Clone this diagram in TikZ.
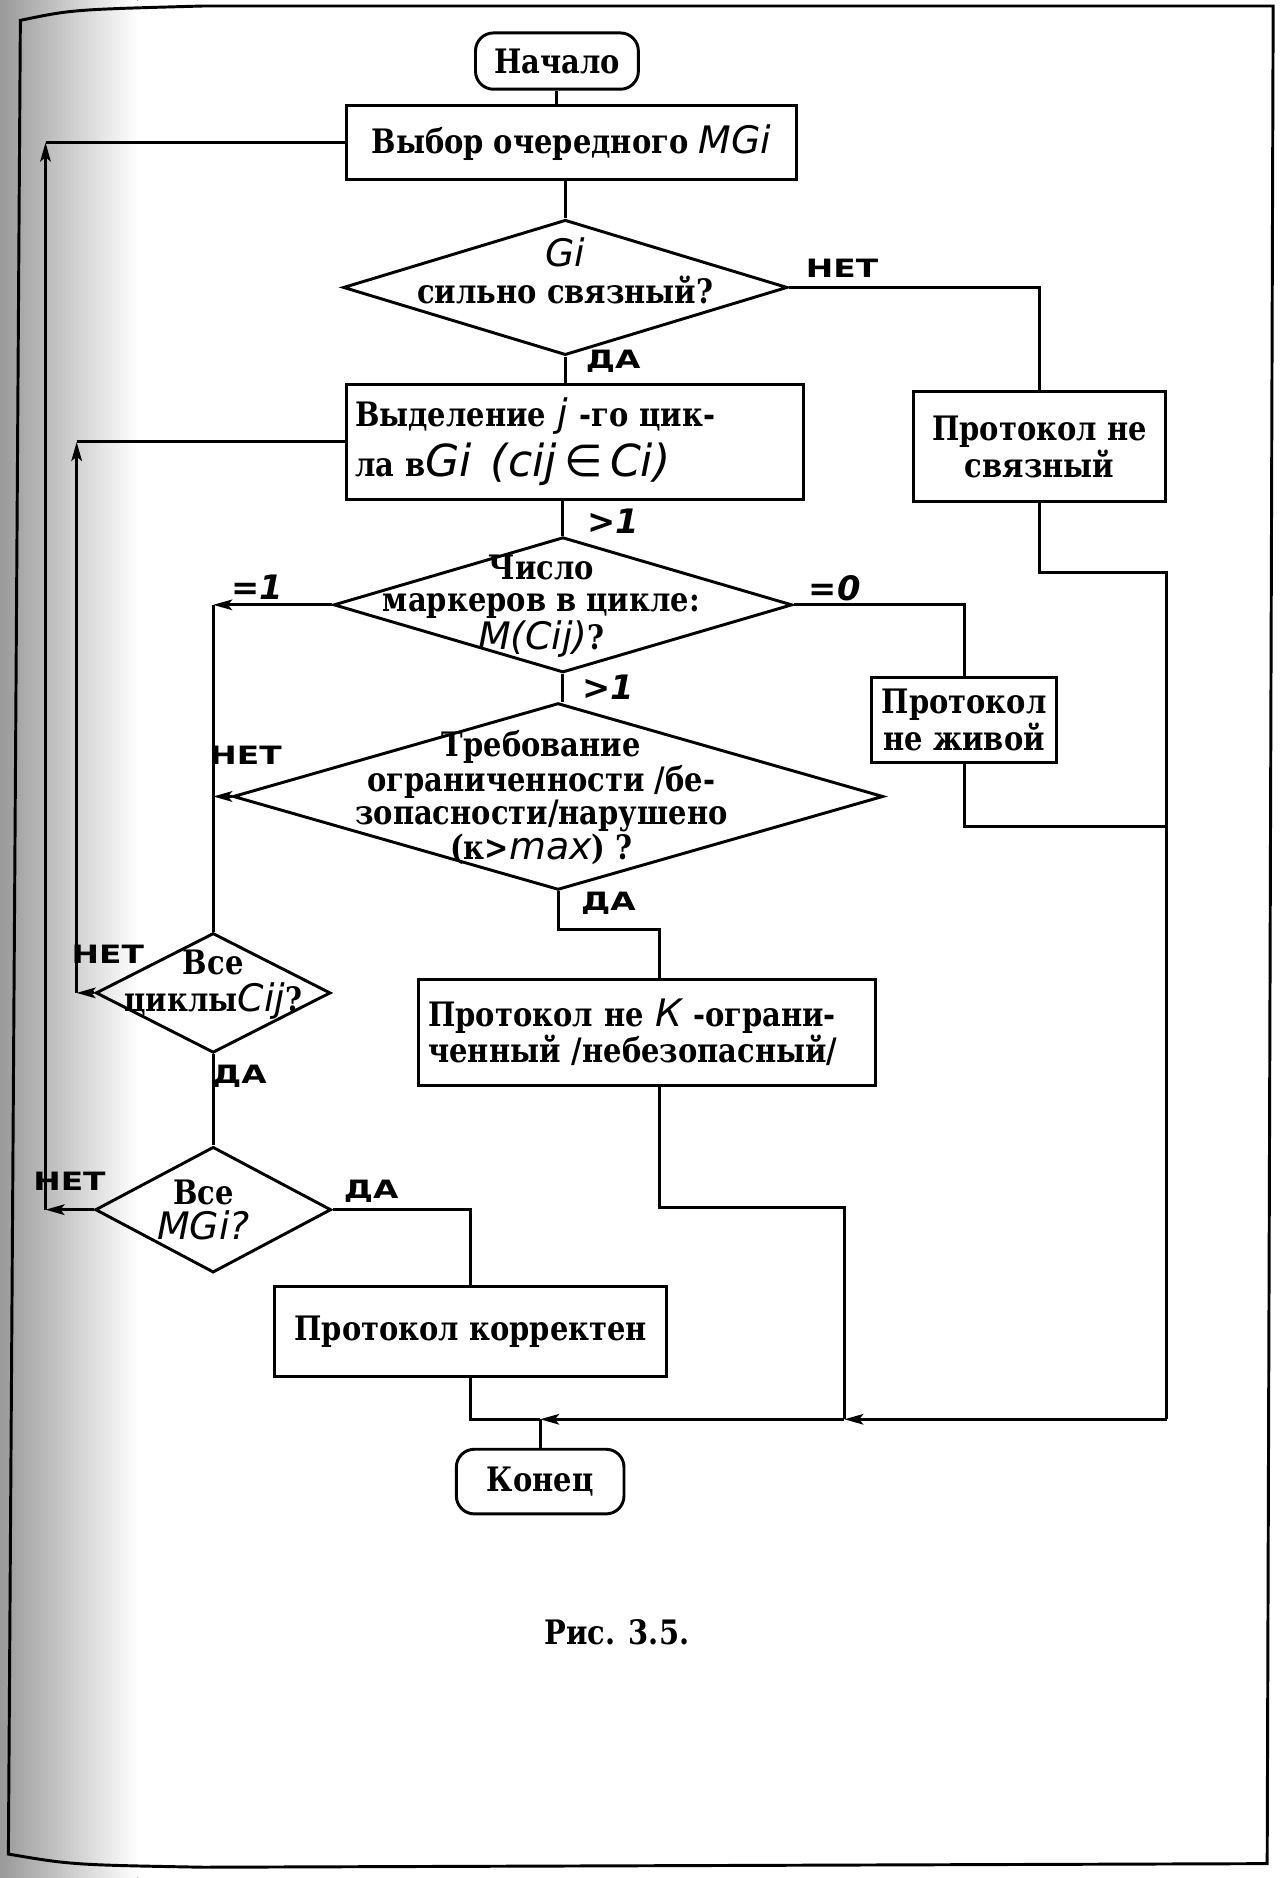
\documentclass[tikz,border=0pt]{standalone}
\usepackage{fontspec}
\setmainfont{DejaVu Serif}[FakeStretch=0.86]
\newfontfamily\handfont{DejaVu Sans}
\newfontfamily\markfont{DejaVu Sans}[FakeStretch=1.3]
\newfontfamily\countfont{DejaVu Sans}
\usetikzlibrary{shapes.geometric,arrows.meta}

\newcommand{\twsize}{\fontsize{16}{15.5}\selectfont}
\newcommand{\hw}[1]{{\handfont\mdseries\itshape\fontsize{18}{15.5}\selectfont #1}}

\tikzset{
  box/.style={draw, rectangle, line width=1.4pt, font=\twsize\bfseries, inner sep=0pt},
  term/.style={box, rounded corners=0.3cm},
  decision/.style={draw, diamond, line width=1.4pt, inner sep=0pt},
  txt/.style={font=\twsize\bfseries, align=center, inner sep=0pt},
  lbl/.style={font=\markfont\bfseries\fontsize{12}{12}\selectfont, inner sep=0pt},
  cnt/.style={font=\countfont\bfseries\itshape\fontsize{16}{16}\selectfont, inner sep=0pt},
  conn/.style={line width=1.4pt},
  arr/.style={conn, -{Stealth[length=9pt,width=5pt,inset=2pt]}}
}

\begin{document}
\begin{tikzpicture}[x=0.02cm,y=-0.02cm]
\useasboundingbox (0,0) rectangle (1070,1568);

% page
\fill[left color=black!40, right color=white] (0,0) rectangle (115,1568);
\draw[line width=1.4pt] (17,17) .. controls (60,8) .. (170,5) -- (1063,5) -- (1058,1556)
  -- (170,1559) .. controls (60,1557) .. (7,1548) -- cycle;

% blocks
\node[term, minimum width=2.72cm, minimum height=0.94cm] (start) at (465,51) {Начало};
\node[box, minimum width=7.52cm, minimum height=1.24cm] (choose) at (477,119) {Выбор очередного \hw{MGi}};

\node[decision, minimum width=7.42cm, minimum height=2.26cm] (strong) at (472,240) {};
\node[txt] (strongt) at (472,226) {\hw{Gi}\\[2pt]сильно связный?};

\node[box, minimum width=7.64cm, minimum height=1.92cm, text width=7.34cm, align=left] (cycle) at (480,369)
  {Выделение \hw{j} -го цик-\\[3pt]ла в\hw{\fontsize{21}{15.5}\selectfont Gi\, (cij\,{\upshape ∈}\,Ci)}};
\node[box, minimum width=4.22cm, minimum height=1.84cm, align=center] (notconn) at (868,373) {Протокол не\\связный};

\node[decision, minimum width=7.66cm, minimum height=2.26cm] (marks) at (470,505) {};
\node[txt] (markst) at (452,506) {Число\\маркеров в цикле:\\\hw{M(Cij)}?};
\node[box, minimum width=3.1cm, minimum height=1.42cm, align=center] (notlive) at (805,601) {Протокол\\не живой};

\node[decision, minimum width=10.86cm, minimum height=3.12cm] (bound) at (466,665) {};
\node[txt] (boundt) at (452,666) {Требование\\ограниченности /бе-\\зопасности/нарушено\\(к>\hw{max}) ?};

\node[box, minimum width=7.64cm, minimum height=1.78cm, text width=7.3cm, align=left] (notbound) at (540,862)
  {Протокол не \hw{К} -ограни-\\ченный /небезопасный/};

\node[decision, minimum width=3.92cm, minimum height=2cm] (allc) at (178,829) {};
\node[txt] (allct) at (178,822) {Все\\[2pt]циклы\hw{Cij}?};

\node[decision, minimum width=3.94cm, minimum height=2.1cm] (allm) at (178,1010) {};
\node[txt] (allmt) at (170,1010) {Все\\[1pt]\hw{MGi?}};

\node[box, minimum width=6.54cm, minimum height=1.5cm] (correct) at (393,1112) {Протокол корректен};
\node[term, minimum width=2.8cm, minimum height=1.08cm] (stop) at (451,1237) {Конец};

\node[txt] (caption) at (515,1363) {Рис. 3.5.};

% branch labels
\node[lbl] (no1) at (703,224) {НЕТ};
\node[lbl] (yes1) at (512,302) {ДА};
\node[cnt] (gt1) at (512,435) {>1};
\node[cnt] (eqone) at (215,490) {=1};
\node[cnt] (eqzero) at (697,491) {=0};
\node[cnt] (gt2) at (508,574) {>1};
\node[lbl] (no2) at (205,631) {НЕТ};
\node[lbl] (yes2) at (508,754) {ДА};
\node[lbl] (no3) at (90,797) {НЕТ};
\node[lbl] (yes3) at (200,899) {ДА};
\node[lbl] (no4) at (58,986) {НЕТ};
\node[lbl] (yes4) at (310,995) {ДА};

% corners
\coordinate (eq1) at (allc.north |- marks.west);
\coordinate (nob) at (allc.north |- bound.west);
\coordinate (loopa) at (allc.west -| 64,0);
\coordinate (loopb) at (cycle.west -| 64,0);
\coordinate (outa) at (allm.west -| 38,0);
\coordinate (outb) at (choose.west -| 38,0);
\coordinate (m2) at (551,776);
\coordinate (m0) at (551,1008);
\coordinate (m1) at (705,1008);
\coordinate (r1) at (974,478);
\coordinate (r3) at (974,690);
\coordinate (r2) at (974,1185);
\coordinate (jb) at (705,1185);
\coordinate (jk) at (stop.north |- r2);

% connectors
\draw[conn] (start.south) -- (start.south |- choose.north);
\draw[conn] (strong.north |- choose.south) -- (strong.north);
\draw[conn] (strong.south) -- (strong.south |- cycle.north);
\draw[conn] (strong.east) -| (notconn.north);
\draw[conn] (marks.north |- cycle.south) -- (marks.north);
\draw[conn] (marks.south) -- (marks.south |- bound.north);
\draw[conn] (marks.east) -| (notlive.north);
\draw[arr] (marks.west) -- (eq1);
\draw[conn] (eq1) -- (allc.north);
\draw[arr] (bound.west) -- (nob);
\draw[conn] (bound.south) |- (m2) -- (m2 |- notbound.north);
\draw[conn] (allc.south) -- (allm.north);
\draw[arr] (allc.west) -- (loopa);
\draw[arr] (loopa) -- (loopb);
\draw[conn] (loopb) -- (cycle.west);
\draw[arr] (allm.west) -- (outa);
\draw[arr] (outa) -- (outb);
\draw[conn] (outb) -- (choose.west);
\draw[conn] (allm.east) -| (correct.north);
\draw[conn] (notconn.south) |- (r1) -- (r2);
\draw[conn] (notlive.south) |- (r3);
\draw[conn] (m0 |- notbound.south) -- (m0) -- (m1) -- (jb);
\draw[arr] (r2) -- (jb);
\draw[arr] (jb) -- (jk);
\draw[conn] (correct.south) |- (jk);
\draw[conn] (jk) -- (stop.north);
\end{tikzpicture}
\end{document}
